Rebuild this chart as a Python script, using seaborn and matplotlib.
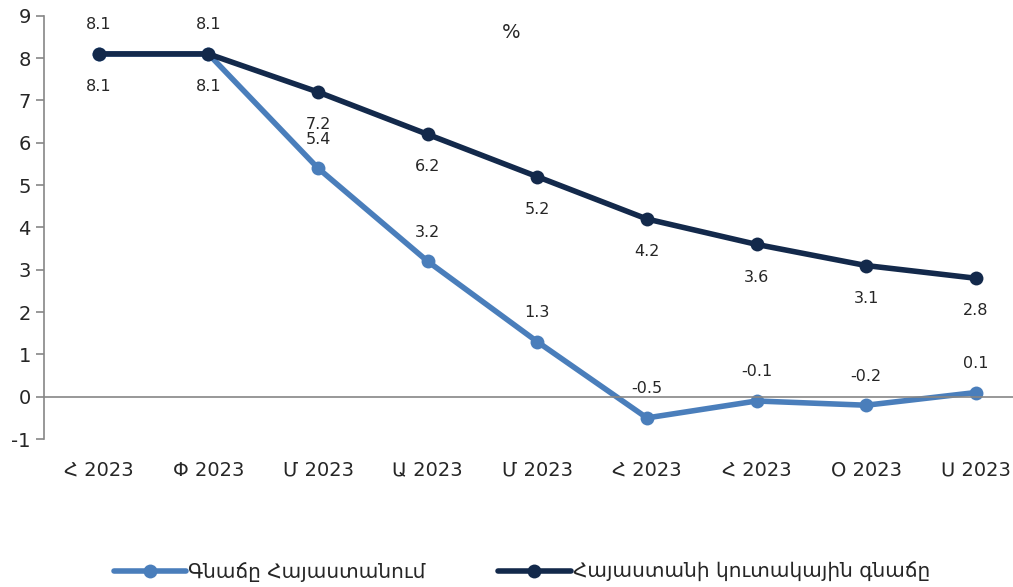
import pandas as pd
import matplotlib
matplotlib.use("Agg")
import matplotlib.pyplot as plt
from matplotlib.ticker import FixedLocator, MultipleLocator
import seaborn as sns

# data
months = ["Հ 2023", "Փ 2023", "Մ 2023", "Ա 2023", "Մ 2023",
          "Հ 2023", "Հ 2023", "Օ 2023", "Ս 2023"]
inflation = [8.1, 8.1, 5.4, 3.2, 1.3, -0.5, -0.1, -0.2, 0.1]
cumulative = [8.1, 8.1, 7.2, 6.2, 5.2, 4.2, 3.6, 3.1, 2.8]
series_names = ["Գնաճը Հայաստանում", "Հայաստանի կուտակային գնաճը"]
colors = ["#4a7ebb", "#13294b"]

sns.set_style("white")
plt.rcParams["font.family"] = ["DejaVu Sans"]
plt.rcParams["axes.unicode_minus"] = False

df = pd.DataFrame({
    "pos": list(range(len(months))) * 2,
    "value": inflation + cumulative,
    "series": [series_names[0]] * len(months) + [series_names[1]] * len(months),
})

fig = plt.figure(figsize=(10.13, 5.87), dpi=100)
ax = fig.add_axes([0.0434, 0.252, 0.974, 0.721])

sns.lineplot(data=df, x="pos", y="value", hue="series", hue_order=series_names,
             palette=colors, marker="o", markersize=10, markeredgewidth=0,
             linewidth=4, ax=ax)

# data labels: blue above, navy below
for i, v in enumerate(inflation):
    ax.annotate(f"{v:.1f}", (i, v), xytext=(0, 21), textcoords="offset points",
                ha="center", va="center", fontsize=11.5, color="#262626")
for i, v in enumerate(cumulative):
    ax.annotate(f"{v:.1f}", (i, v), xytext=(0, -23.5), textcoords="offset points",
                ha="center", va="center", fontsize=11.5, color="#262626")

ax.set_xlim(-0.5, 8.5)
ax.set_ylim(-1, 9)
ax.yaxis.set_major_locator(MultipleLocator(1))
ax.set_xticks(range(len(months)))
ax.set_xticklabels(months)
ax.xaxis.set_minor_locator(FixedLocator([i + 0.5 for i in range(-1, len(months))]))
ax.tick_params(axis="x", which="major", length=0, pad=46, labelsize=14, labelcolor="#262626")
ax.tick_params(axis="x", which="minor", length=5, width=1.2, color="#868686", direction="out")
ax.tick_params(axis="y", length=6, width=1.2, color="#868686", labelsize=14,
               labelcolor="#262626", direction="out", left=True)
ax.set_xlabel("")
ax.set_ylabel("")

for side in ["top", "right"]:
    ax.spines[side].set_visible(False)
ax.spines["bottom"].set_position(("data", 0))
ax.spines["bottom"].set_color("#868686")
ax.spines["bottom"].set_linewidth(1.2)
ax.spines["left"].set_color("#868686")
ax.spines["left"].set_linewidth(1.2)

fig.text(0.505, 0.944, "%", ha="center", va="center", fontsize=14, color="#262626")

handles, labels = ax.get_legend_handles_labels()
ax.get_legend().remove()
fig.legend(handles, labels, loc="center", bbox_to_anchor=(0.515, 0.026), ncol=2,
           frameon=False, fontsize=14.5, handlelength=3.6, handletextpad=0.1,
           columnspacing=3.6)

fig.savefig("out.png", dpi=100)
